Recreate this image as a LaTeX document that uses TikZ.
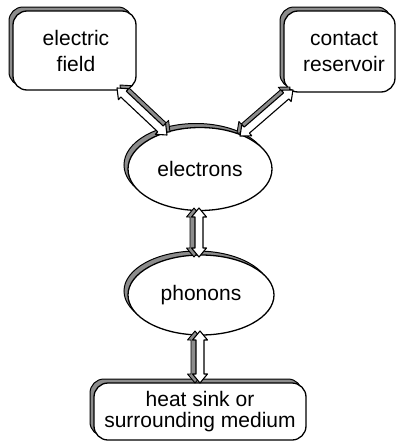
\documentclass[tikz,border=0pt]{standalone}
\usepackage{fontspec}
\setmainfont{Liberation Sans}
\usetikzlibrary{shapes.geometric,shadows,patterns,calc}
\newcommand\arrhl{9pt}
\newcommand\arrhw{7.5pt}
\newcommand\arrsw{4pt}
\newcommand{\arrpoly}[3]{%
  \coordinate (hA) at ($(#2)!\arrhl!(#3)$);
  \coordinate (hB) at ($(#3)!\arrhl!(#2)$);
  \draw[#1] (#2) -- ($(hA)!\arrhw!90:(#3)$) -- ($(hA)!\arrsw!90:(#3)$)
    -- ($(hB)!\arrsw!-90:(#2)$) -- ($(hB)!\arrhw!-90:(#2)$) -- (#3)
    -- ($(hB)!\arrhw!90:(#2)$) -- ($(hB)!\arrsw!90:(#2)$)
    -- ($(hA)!\arrsw!-90:(#3)$) -- ($(hA)!\arrhw!-90:(#3)$) -- cycle;}
\newcommand{\fatarr}[3]{%
  \coordinate (sA) at ($(#1)+#3$);
  \coordinate (sB) at ($(#2)+#3$);
  \arrpoly{arrshadow}{sA}{sB}
  \arrpoly{arrbody}{#1}{#2}}
\tikzset{
  shadowed/.style={general shadow={shadow xshift=-4pt, shadow yshift=4pt,
      draw=black, line width=1pt, fill=black!45}},
  label font/.style={font=\fontsize{21}{26}\selectfont, align=center},
  boxnode/.style={draw, line width=1.3pt, fill=white, rounded corners=14pt,
      inner sep=0pt, shadowed, label font},
  ellnode/.style={draw, ellipse, line width=1.3pt, fill=white, inner sep=0pt,
      shadowed, label font},
  arrshadow/.style={draw=black, line width=0.9pt, fill=black!45, line join=round},
  arrbody/.style={draw=black, line width=1.1pt, fill=white, line join=round},
}
\begin{document}
\begin{tikzpicture}[x=1pt,y=-1pt]
\useasboundingbox (0,0) rectangle (397,442);
\node[boxnode, minimum width=123pt, minimum height=79pt] (ef) at (74.5,50.5) {};
\node[label font] (eft) at (76,51) {electric\\field};
\node[boxnode, minimum width=111pt, minimum height=81pt] (cr) at (339.5,51.5) {};
\node[label font] (crt) at (344,51.5) {contact\\reservoir};
\node[ellnode, minimum width=144pt, minimum height=83pt] (el) at (200,169) {electrons};
\node[ellnode, minimum width=146pt, minimum height=80pt] (ph) at (201,295) {phonons};
\node[boxnode, minimum width=212pt, minimum height=57pt,
      font=\fontsize{21}{21}\selectfont] (hs) at (200,411.5) {heat sink or\\surrounding medium};
\coordinate (a1) at (117,88);
\coordinate (a2) at (167,135);
\coordinate (b1) at (293,90);
\coordinate (b2) at (240,136);
\coordinate (c1) at (199,208);
\coordinate (c2) at (199,257);
\coordinate (d1) at (200,331);
\coordinate (d2) at (200,383);
\fatarr{a1}{a2}{(3,-3)}
\fatarr{b1}{b2}{(-3,-3)}
\fatarr{c1}{c2}{(-5,0)}
\fatarr{d1}{d2}{(-5,0)}
\end{tikzpicture}
\end{document}
